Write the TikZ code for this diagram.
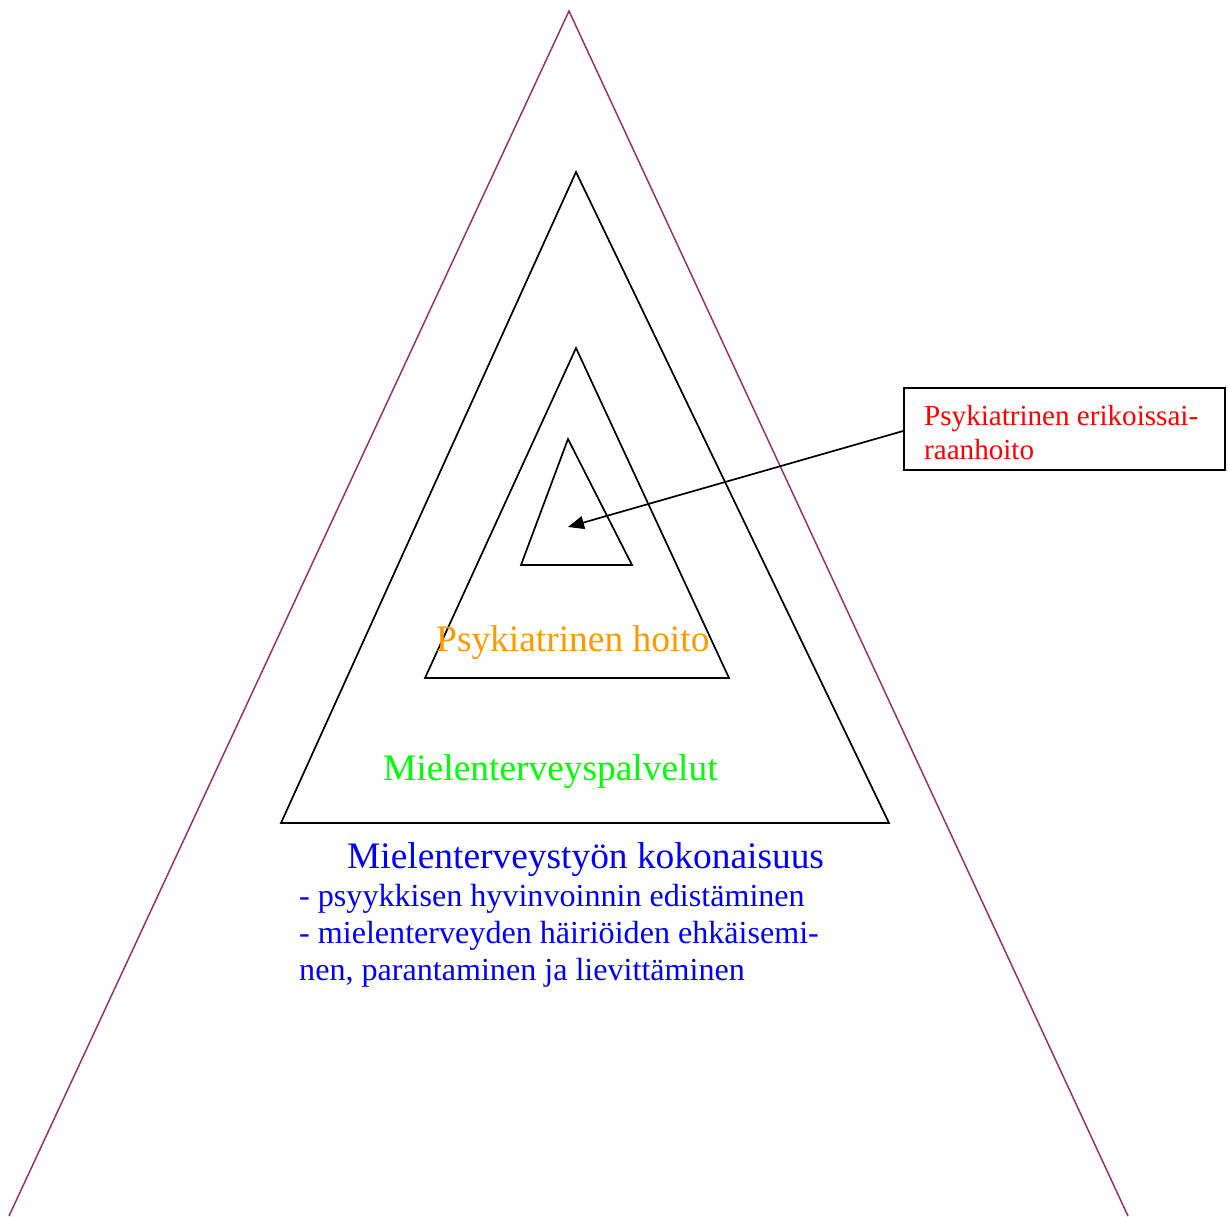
\documentclass[tikz,border=0pt]{standalone}
\usepackage{fontspec}
\setmainfont{Liberation Serif}
\usetikzlibrary{arrows.meta}
\definecolor{plum}{RGB}{153,51,102}
\definecolor{orng}{RGB}{255,153,0}
\definecolor{grn}{RGB}{0,255,0}
\definecolor{blu}{RGB}{0,0,255}
\definecolor{rd}{RGB}{255,0,0}
\begin{document}
\begin{tikzpicture}[x=1pt,y=-1pt,
  tri/.style={draw=black,line width=1.7pt,line join=miter},
  outer/.style={draw=plum,line width=1.5pt},
  lbl/.style={anchor=base west,inner sep=0pt},
  big/.style={font=\fontsize{37.4}{42}\selectfont},
  mid/.style={font=\fontsize{32.1}{37}\selectfont},
  small/.style={font=\fontsize{29.1}{35}\selectfont}]
\useasboundingbox (0,0) rectangle (1228,1216);
% outer triangle
\coordinate (o1) at (569,11);
\coordinate (o2) at (9,1216);
\coordinate (o3) at (1128,1216);
\draw[outer] (o2) -- (o1) -- (o3);
% nested triangles
\coordinate (a1) at (576,172); \coordinate (a2) at (281,823); \coordinate (a3) at (889,823);
\draw[tri] (a1) -- (a2) -- (a3) -- cycle;
\coordinate (b1) at (576,348); \coordinate (b2) at (425,678); \coordinate (b3) at (729,678);
\draw[tri] (b1) -- (b2) -- (b3) -- cycle;
\coordinate (c1) at (568,439); \coordinate (c2) at (521,565); \coordinate (c3) at (632,565);
\draw[tri] (c1) -- (c2) -- (c3) -- cycle;
% labels
\node[lbl,big,text=orng] (t1) at (436,651) {Psykiatrinen hoito};
\node[lbl,big,text=grn] (t2) at (383,780) {Mielenterveyspalvelut};
\node[lbl,big,text=blu] (t3) at (347,868) {Mielenterveystyön kokonaisuus};
\node[lbl,mid,text=blu] (t4) at (299,906) {- psyykkisen hyvinvoinnin edistäminen};
\node[lbl,mid,text=blu] (t5) at (299,943) {- mielenterveyden häiriöiden ehkäisemi-};
\node[lbl,mid,text=blu] (t6) at (299,980) {nen, parantaminen ja lievittäminen};
% callout box
\node[draw=black,line width=1.7pt,minimum width=321pt,minimum height=82pt,inner sep=0pt] (box) at (1064.5,429) {};
\node[lbl,small,text=rd] (r1) at (924,425) {Psykiatrinen erikoissai-};
\node[lbl,small,text=rd] (r2) at (924,459) {raanhoito};
\coordinate (tip) at (568,527);
\draw[line width=1.7pt,-{Triangle[length=16pt,width=13pt]}] (box.west) ++(0,2) -- (tip);
\end{tikzpicture}
\end{document}
